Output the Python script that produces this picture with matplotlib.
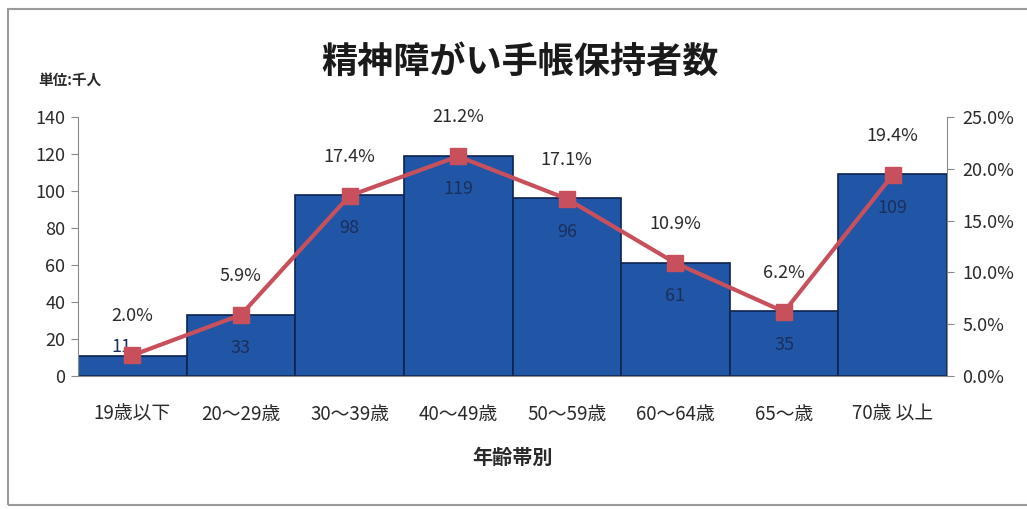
import matplotlib
matplotlib.use("Agg")
import matplotlib.pyplot as plt
from matplotlib.patches import Rectangle
from matplotlib.ticker import FuncFormatter, MultipleLocator

plt.rcParams["font.family"] = ["Noto Sans CJK JP", "DejaVu Sans"]

# data
age_groups = ["19歳以下", "20～29歳", "30～39歳", "40～49歳",
              "50～59歳", "60～64歳", "65～歳", "70歳 以上"]
holders_k = [11, 33, 98, 119, 96, 61, 35, 109]
share_pct = [2.0, 5.9, 17.4, 21.2, 17.1, 10.9, 6.2, 19.4]

BAR = "#2156a6"
BAR_EDGE = "#0d2350"
LINE = "#c8505c"
INK = "#2a2a2a"
AXIS = "#8a8a8a"

fig = plt.figure(figsize=(10.27, 5.09), dpi=100)
fig.patch.set_facecolor("white")
fig.patches.append(Rectangle((8 / 1027, 4 / 509), 1.2, 496 / 509, transform=fig.transFigure,
                             fill=False, edgecolor="#9a9a9a", linewidth=1.5))

ax = fig.add_axes([78 / 1027, 1 - 376 / 509, (947 - 78) / 1027, (376 - 117) / 509])
x = range(len(age_groups))
ax.bar(x, holders_k, width=1.0, color=BAR, edgecolor=BAR_EDGE, linewidth=1.2, zorder=2)
ax.set_xlim(-0.5, len(age_groups) - 0.5)
ax.set_ylim(0, 140)
ax.yaxis.set_major_locator(MultipleLocator(20))
ax.set_xticks(list(x))
ax.set_xticklabels(age_groups, fontsize=13.5, color=INK)
ax.tick_params(axis="x", length=0, pad=20)
ax.tick_params(axis="y", labelsize=13, labelcolor=INK, color=AXIS, length=5, pad=4)
for side in ("top", "right"):
    ax.spines[side].set_visible(False)
ax.spines["left"].set_color(AXIS)
ax.spines["bottom"].set_color(AXIS)

for i, v in enumerate(holders_k):
    if v > 20:
        ax.annotate(str(v), (i, v), xytext=(0, -24), textcoords="offset points",
                    ha="center", va="center", fontsize=13, color="#1b2f5c", zorder=4)
    else:
        ax.annotate(str(v), (i, v), xytext=(-8, 6), textcoords="offset points",
                    ha="center", va="center", fontsize=13, color="#1b2f5c", zorder=4)

ax2 = ax.twinx()
ax2.plot(list(x), share_pct, color=LINE, linewidth=3, marker="s", markersize=12,
         markerfacecolor=LINE, markeredgecolor=LINE, zorder=3)
ax2.set_ylim(0, 25)
ax2.yaxis.set_major_locator(MultipleLocator(5))
ax2.yaxis.set_major_formatter(FuncFormatter(lambda v, _: f"{v:.1f}%"))
ax2.tick_params(axis="y", labelsize=13, labelcolor=INK, color=AXIS, length=5, pad=6)
for side in ("top", "left", "bottom"):
    ax2.spines[side].set_visible(False)
ax2.spines["right"].set_color(AXIS)
for i, p in enumerate(share_pct):
    ax2.annotate(f"{p:.1f}%", (i, p), xytext=(0, 28), textcoords="offset points",
                 ha="center", va="center", fontsize=13, color=INK)

ax.set_xlabel("年齢帯別", fontsize=14.5, fontweight="bold", color=INK, labelpad=16)
fig.text(520 / 1027, 1 - 62 / 509, "精神障がい手帳保持者数", ha="center", va="center",
         fontsize=26, fontweight="bold", color="#1a1a1a")
fig.text(38 / 1027, 1 - 80 / 509, "単位:千人", ha="left", va="center",
         fontsize=10.5, fontweight="bold", color=INK)

fig.savefig("out.png", dpi=100, facecolor="white")
